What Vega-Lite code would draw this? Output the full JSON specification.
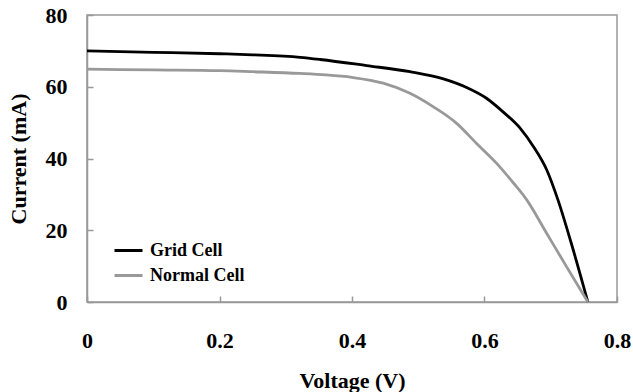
{
  "$schema": "https://vega.github.io/schema/vega-lite/v6.json",
  "autosize": {"type": "none"},
  "width": 530,
  "height": 287,
  "padding": {"left": 87, "top": 15, "right": 16, "bottom": 90},
  "background": "white",
  "config": {
    "view": {"stroke": "#999999", "strokeWidth": 1.5},
    "font": "Liberation Serif",
    "axis": {
      "grid": false,
      "domainColor": "#999999",
      "domainWidth": 1.5,
      "tickColor": "#999999",
      "tickSize": -6,
      "tickWidth": 1.5,
      "labelFlush": false,
      "labelFont": "Liberation Serif",
      "labelFontWeight": "bold",
      "labelFontSize": 22,
      "labelColor": "#000000",
      "titleFont": "Liberation Serif",
      "titleFontWeight": "bold",
      "titleFontSize": 22,
      "titleColor": "#000000"
    }
  },
  "data": {
    "values": [
      {"v": 0.0, "i": 70.0, "cell": "Grid Cell"},
      {"v": 0.1, "i": 69.6, "cell": "Grid Cell"},
      {"v": 0.2, "i": 69.2, "cell": "Grid Cell"},
      {"v": 0.25, "i": 68.9, "cell": "Grid Cell"},
      {"v": 0.3215, "i": 68.2, "cell": "Grid Cell"},
      {"v": 0.352, "i": 67.6, "cell": "Grid Cell"},
      {"v": 0.422, "i": 65.9, "cell": "Grid Cell"},
      {"v": 0.4875, "i": 64.2, "cell": "Grid Cell"},
      {"v": 0.538, "i": 62.2, "cell": "Grid Cell"},
      {"v": 0.573, "i": 59.8, "cell": "Grid Cell"},
      {"v": 0.603, "i": 56.8, "cell": "Grid Cell"},
      {"v": 0.628, "i": 53.0, "cell": "Grid Cell"},
      {"v": 0.654, "i": 48.4, "cell": "Grid Cell"},
      {"v": 0.674, "i": 43.3, "cell": "Grid Cell"},
      {"v": 0.694, "i": 36.8, "cell": "Grid Cell"},
      {"v": 0.711, "i": 28.4, "cell": "Grid Cell"},
      {"v": 0.73, "i": 17.0, "cell": "Grid Cell"},
      {"v": 0.756, "i": 0.0, "cell": "Grid Cell"},
      {"v": 0.0, "i": 64.9, "cell": "Normal Cell"},
      {"v": 0.1, "i": 64.7, "cell": "Normal Cell"},
      {"v": 0.2, "i": 64.5, "cell": "Normal Cell"},
      {"v": 0.25, "i": 64.2, "cell": "Normal Cell"},
      {"v": 0.3215, "i": 63.7, "cell": "Normal Cell"},
      {"v": 0.36, "i": 63.3, "cell": "Normal Cell"},
      {"v": 0.4, "i": 62.6, "cell": "Normal Cell"},
      {"v": 0.447, "i": 61.0, "cell": "Normal Cell"},
      {"v": 0.4875, "i": 58.2, "cell": "Normal Cell"},
      {"v": 0.523, "i": 54.4, "cell": "Normal Cell"},
      {"v": 0.558, "i": 49.8, "cell": "Normal Cell"},
      {"v": 0.588, "i": 44.2, "cell": "Normal Cell"},
      {"v": 0.618, "i": 38.7, "cell": "Normal Cell"},
      {"v": 0.644, "i": 33.1, "cell": "Normal Cell"},
      {"v": 0.664, "i": 28.4, "cell": "Normal Cell"},
      {"v": 0.694, "i": 19.1, "cell": "Normal Cell"},
      {"v": 0.724, "i": 9.8, "cell": "Normal Cell"},
      {"v": 0.756, "i": 0.0, "cell": "Normal Cell"}
    ]
  },
  "mark": {"type": "line", "strokeWidth": 2.8, "interpolate": "monotone"},
  "encoding": {
    "x": {
      "field": "v",
      "type": "quantitative",
      "scale": {"domain": [0, 0.8], "nice": false},
      "axis": {
        "title": "Voltage (V)",
        "values": [0, 0.2, 0.4, 0.6, 0.8],
        "labelExpr": "datum.value == 0 ? '0' : format(datum.value, '.1f')",
        "labelPadding": 34,
        "titlePadding": 19
      }
    },
    "y": {
      "field": "i",
      "type": "quantitative",
      "scale": {"domain": [0, 80], "nice": false},
      "axis": {
        "title": "Current (mA)",
        "values": [0, 20, 40, 60, 80],
        "labelPadding": 26,
        "titlePadding": 15
      }
    },
    "color": {
      "field": "cell",
      "type": "nominal",
      "scale": {"domain": ["Grid Cell", "Normal Cell"], "range": ["#000000", "#999999"]},
      "legend": {
        "title": null,
        "orient": "none",
        "legendX": 26,
        "legendY": 220,
        "padding": 0,
        "symbolType": "stroke",
        "symbolSize": 784,
        "symbolStrokeWidth": 3,
        "labelFont": "Liberation Serif",
        "labelFontWeight": "bold",
        "labelFontSize": 18,
        "labelColor": "#000000",
        "labelOffset": 6,
        "rowPadding": -1
      }
    }
  }
}
